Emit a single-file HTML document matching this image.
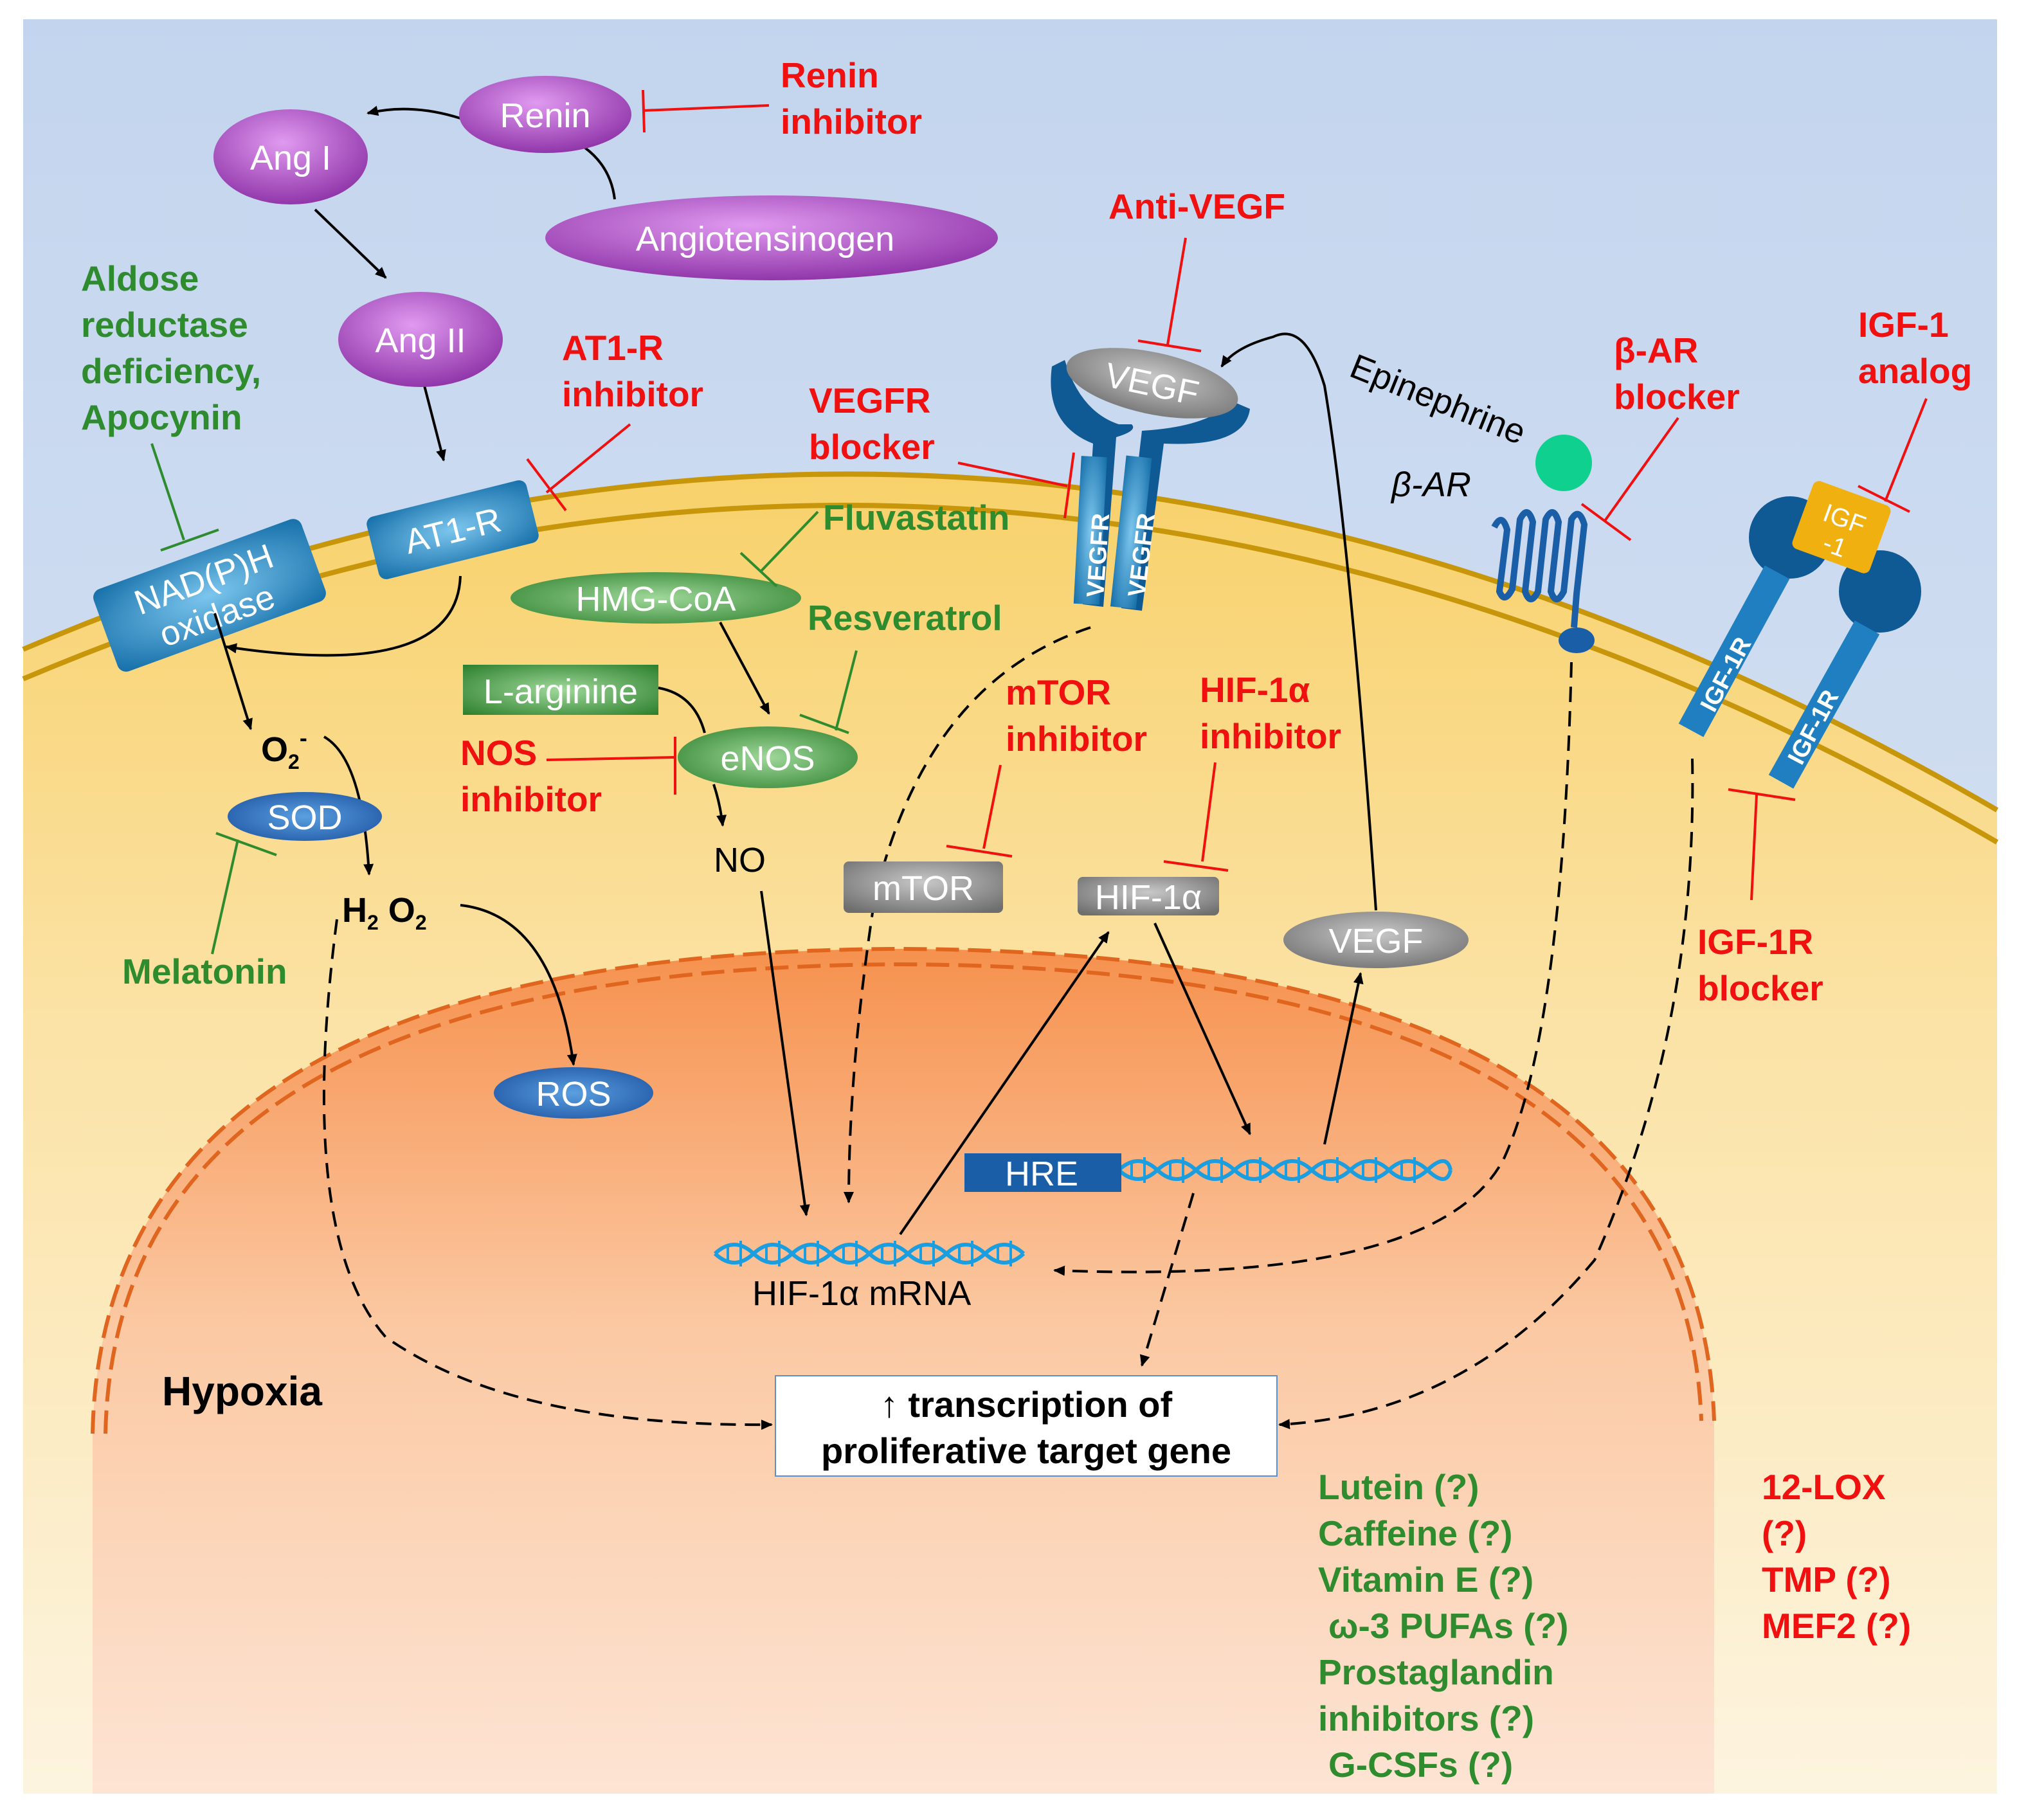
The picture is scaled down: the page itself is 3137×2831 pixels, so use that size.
<!DOCTYPE html>
<html><head><meta charset="utf-8"><style>
html,body{margin:0;padding:0;background:#fff;}
svg{display:block;}
text{font-family:"Liberation Sans",sans-serif;}
.r{fill:#f01010;font-weight:bold;font-size:27.5px;}
.g{fill:#2e8b2e;font-weight:bold;font-size:27.5px;}
.w{fill:#fff;font-size:27px;}
.k{fill:#000;font-size:27px;}
</style></head><body>
<svg width="3137" height="2831" viewBox="0 0 1568.5 1415.5" xmlns="http://www.w3.org/2000/svg">
<defs>
<linearGradient id="sky" x1="0" y1="0" x2="0" y2="1"><stop offset="0" stop-color="#c3d5ee"/><stop offset="1" stop-color="#dfe7f4"/></linearGradient>
<linearGradient id="cyto" x1="0" y1="0" x2="0" y2="1"><stop offset="0" stop-color="#f8d16a"/><stop offset="0.4" stop-color="#fbe2a4"/><stop offset="1" stop-color="#fdf4e0"/></linearGradient>
<linearGradient id="nuc" x1="0" y1="0" x2="0" y2="1"><stop offset="0" stop-color="#f6914e"/><stop offset="0.45" stop-color="#fbc9a3"/><stop offset="1" stop-color="#fde4d4"/></linearGradient>
<radialGradient id="pur" cx="0.45" cy="0.35" r="0.7"><stop offset="0" stop-color="#e09af0"/><stop offset="1" stop-color="#8b2fa5"/></radialGradient>
<radialGradient id="blu" cx="0.5" cy="0.5" r="0.7"><stop offset="0" stop-color="#7cc6ee"/><stop offset="1" stop-color="#146ea8"/></radialGradient>
<radialGradient id="dblu" cx="0.5" cy="0.5" r="0.7"><stop offset="0" stop-color="#5a9fe0"/><stop offset="1" stop-color="#1a4f9e"/></radialGradient>
<radialGradient id="grn" cx="0.5" cy="0.5" r="0.7"><stop offset="0" stop-color="#9fd89a"/><stop offset="1" stop-color="#2c7f2c"/></radialGradient>
<radialGradient id="gry" cx="0.5" cy="0.4" r="0.7"><stop offset="0" stop-color="#c8c8c8"/><stop offset="1" stop-color="#6e6e6e"/></radialGradient>
<marker id="ar" markerWidth="10" markerHeight="10" refX="8" refY="4" orient="auto" markerUnits="userSpaceOnUse"><path d="M0,0 L9,4 L0,8 z" fill="#000"/></marker>
</defs>
<rect x="18" y="15" width="1535" height="1380" fill="url(#sky)"/>
<path d="M18,505 Q780,180 1553,630 L1553,1395 L18,1395 Z" fill="url(#cyto)"/>
<path d="M18,505 Q780,180 1553,630" fill="none" stroke="#c8960a" stroke-width="4"/>
<path d="M18,528 Q780,205 1553,655" fill="none" stroke="#c8960a" stroke-width="4"/>
<path d="M72,1115 Q80,740 700,738 Q1320,740 1333,1105 L1333,1395 L72,1395 Z" fill="url(#nuc)"/>
<path d="M72,1115 Q80,740 700,738 Q1320,740 1333,1105" fill="none" stroke="#e0651e" stroke-width="3" stroke-dasharray="18,7"/>
<path d="M82,1115 Q90,752 700,750 Q1310,752 1323,1105" fill="none" stroke="#e0651e" stroke-width="3" stroke-dasharray="18,7"/>

<path d="M358,92 Q320,80 286,88" fill="none" stroke="#000" stroke-width="2" marker-end="url(#ar)"/>
<path d="M455,115 Q475,130 478,155" fill="none" stroke="#000" stroke-width="2"/>
<line x1="245" y1="163" x2="300" y2="216" stroke="#000" stroke-width="2" marker-end="url(#ar)"/>
<line x1="330" y1="300" x2="345" y2="358" stroke="#000" stroke-width="2" marker-end="url(#ar)"/>
<ellipse cx="424" cy="89" rx="67" ry="30" fill="url(#pur)"/><text x="424" y="99" class="w" text-anchor="middle">Renin</text>
<ellipse cx="226" cy="122" rx="60" ry="37" fill="url(#pur)"/><text x="226" y="132" class="w" text-anchor="middle">Ang I</text>
<ellipse cx="327" cy="264" rx="64" ry="37" fill="url(#pur)"/><text x="327" y="274" class="w" text-anchor="middle">Ang II</text>
<ellipse cx="600" cy="185" rx="176" ry="33" fill="url(#pur)"/><text x="595" y="195" class="w" text-anchor="middle" font-size="28.5">Angiotensinogen</text>
<line x1="598" y1="82" x2="500" y2="86" stroke="#f01010" stroke-width="2"/><line x1="500" y1="70" x2="501" y2="103" stroke="#f01010" stroke-width="2"/>
<text x="607" y="68" class="r">Renin</text><text x="607" y="104" class="r">inhibitor</text>

<text x="437" y="280" class="r">AT1-R</text><text x="437" y="316" class="r">inhibitor</text>
<line x1="490" y1="330" x2="425" y2="383" stroke="#f01010" stroke-width="2"/><line x1="410" y1="357" x2="440" y2="397" stroke="#f01010" stroke-width="2"/>
<g transform="translate(352,412) rotate(-14)"><rect x="-64" y="-25" width="128" height="50" rx="6" fill="url(#blu)"/><text x="0" y="10" class="w" text-anchor="middle">AT1-R</text></g>
<g transform="translate(163,463) rotate(-20)"><rect x="-86" y="-34" width="172" height="68" rx="7" fill="url(#blu)"/><text x="0" y="-4" class="w" text-anchor="middle">NAD(P)H</text><text x="0" y="26" class="w" text-anchor="middle">oxidase</text></g>
<path d="M358,448 Q355,530 176,503" fill="none" stroke="#000" stroke-width="2" marker-end="url(#ar)"/>
<text x="63" y="226" class="g">Aldose</text><text x="63" y="262" class="g">reductase</text><text x="63" y="298" class="g">deficiency,</text><text x="63" y="334" class="g">Apocynin</text>
<line x1="118" y1="345" x2="143" y2="420" stroke="#2e8b2e" stroke-width="2"/><line x1="125" y1="428" x2="170" y2="412" stroke="#2e8b2e" stroke-width="2"/>
<line x1="167" y1="477" x2="195" y2="567" stroke="#000" stroke-width="2" marker-end="url(#ar)"/>
<text x="203" y="592" class="k" font-weight="bold">O<tspan font-size="16" dy="6">2</tspan><tspan font-size="18" dy="-18">-</tspan></text>
<path d="M252,573 Q282,590 287,680" fill="none" stroke="#000" stroke-width="2" marker-end="url(#ar)"/>
<ellipse cx="237" cy="635" rx="60" ry="19" fill="url(#dblu)"/><text x="237" y="645" class="w" text-anchor="middle">SOD</text>
<line x1="165" y1="742" x2="185" y2="653" stroke="#2e8b2e" stroke-width="2"/><line x1="168" y1="648" x2="215" y2="665" stroke="#2e8b2e" stroke-width="2"/>
<text x="95" y="765" class="g">Melatonin</text>
<text x="266" y="717" class="k" font-weight="bold">H<tspan font-size="16" dy="6">2</tspan><tspan dy="-6"> O</tspan><tspan font-size="16" dy="6">2</tspan></text>
<path d="M358,704 Q430,712 446,828" fill="none" stroke="#000" stroke-width="2" marker-end="url(#ar)"/>
<ellipse cx="446" cy="850" rx="62" ry="20" fill="url(#dblu)"/><text x="446" y="860" class="w" text-anchor="middle">ROS</text>
<path d="M262,715 Q230,960 300,1040 Q400,1110 600,1108" fill="none" stroke="#000" stroke-width="2" stroke-dasharray="12,7" marker-end="url(#ar)"/>

<ellipse cx="510" cy="465" rx="113" ry="20" fill="url(#grn)"/><text x="510" y="475" class="w" text-anchor="middle">HMG-CoA</text>
<text x="640" y="412" class="g">Fluvastatin</text>
<line x1="636" y1="398" x2="592" y2="444" stroke="#2e8b2e" stroke-width="2"/><line x1="576" y1="430" x2="604" y2="456" stroke="#2e8b2e" stroke-width="2"/>
<text x="628" y="490" class="g">Resveratrol</text>
<line x1="666" y1="506" x2="650" y2="568" stroke="#2e8b2e" stroke-width="2"/><line x1="622" y1="556" x2="660" y2="570" stroke="#2e8b2e" stroke-width="2"/>
<rect x="360" y="517" width="152" height="39" fill="url(#grn)"/><text x="436" y="547" class="w" text-anchor="middle">L-arginine</text>
<line x1="560" y1="484" x2="598" y2="555" stroke="#000" stroke-width="2" marker-end="url(#ar)"/>
<path d="M512,535 Q540,540 548,570" fill="none" stroke="#000" stroke-width="2"/>
<ellipse cx="597" cy="589" rx="70" ry="24" fill="url(#grn)"/><text x="597" y="599" class="w" text-anchor="middle">eNOS</text>
<path d="M555,610 Q560,625 562,642" fill="none" stroke="#000" stroke-width="2" marker-end="url(#ar)"/>
<line x1="425" y1="591" x2="524" y2="589" stroke="#f01010" stroke-width="2"/><line x1="525" y1="573" x2="525" y2="618" stroke="#f01010" stroke-width="2"/>
<text x="358" y="595" class="r">NOS</text><text x="358" y="631" class="r">inhibitor</text>
<text x="555" y="678" class="k">NO</text>
<line x1="592" y1="693" x2="627" y2="945" stroke="#000" stroke-width="2" marker-end="url(#ar)"/>

<text x="862" y="170" class="r">Anti-VEGF</text>
<line x1="922" y1="185" x2="908" y2="268" stroke="#f01010" stroke-width="2"/><line x1="885" y1="265" x2="934" y2="273" stroke="#f01010" stroke-width="2"/>
<path d="M818,285 Q812,330 850,345 L842,470 L858,472 L868,340 Q885,335 880,330 L870,330 Q840,320 828,280 Z" fill="#0f5a95"/>
<path d="M972,318 Q968,348 905,345 L888,475 L872,473 L888,335 Q940,332 958,312 Z" fill="#0f5a95"/>
<rect x="838" y="355" width="20" height="115" fill="url(#blu)" transform="rotate(3 848 410)"/>
<rect x="870" y="355" width="20" height="118" fill="url(#blu)" transform="rotate(6 880 410)"/>
<text transform="translate(858,465) rotate(-86)" fill="#fff" font-size="19" font-weight="bold">VEGFR</text>
<text transform="translate(890,465) rotate(-83)" fill="#fff" font-size="19" font-weight="bold">VEGFR</text>
<g transform="translate(896,298) rotate(12)"><ellipse rx="68" ry="24" fill="url(#gry)"/><text y="10" class="w" text-anchor="middle">VEGF</text></g>
<text x="629" y="321" class="r">VEGFR</text><text x="629" y="357" class="r">blocker</text>
<line x1="745" y1="360" x2="830" y2="378" stroke="#f01010" stroke-width="2"/><line x1="835" y1="352" x2="828" y2="403" stroke="#f01010" stroke-width="2"/>
<path d="M848,488 Q720,530 680,700 Q660,830 660,935" fill="none" stroke="#000" stroke-width="2" stroke-dasharray="12,7" marker-end="url(#ar)"/>
<path d="M1070,708 Q1050,420 1030,300 Q1015,250 990,262 Q960,270 950,285" fill="none" stroke="#000" stroke-width="2" marker-end="url(#ar)"/>

<text x="782" y="548" class="r">mTOR</text><text x="782" y="584" class="r">inhibitor</text>
<line x1="778" y1="595" x2="765" y2="660" stroke="#f01010" stroke-width="2"/><line x1="736" y1="658" x2="787" y2="666" stroke="#f01010" stroke-width="2"/>
<text x="933" y="546" class="r">HIF-1α</text><text x="933" y="582" class="r">inhibitor</text>
<line x1="945" y1="593" x2="935" y2="670" stroke="#f01010" stroke-width="2"/><line x1="905" y1="670" x2="955" y2="677" stroke="#f01010" stroke-width="2"/>
<rect x="656" y="670" width="124" height="40" rx="4" fill="url(#gry)"/><text x="718" y="700" class="w" text-anchor="middle">mTOR</text>
<rect x="838" y="682" width="110" height="30" rx="4" fill="url(#gry)"/><text x="893" y="707" class="w" text-anchor="middle">HIF-1α</text>
<ellipse cx="1070" cy="731" rx="72" ry="22" fill="url(#gry)"/><text x="1070" y="741" class="w" text-anchor="middle">VEGF</text>
<line x1="700" y1="960" x2="862" y2="725" stroke="#000" stroke-width="2" marker-end="url(#ar)"/>
<line x1="898" y1="718" x2="972" y2="882" stroke="#000" stroke-width="2" marker-end="url(#ar)"/>
<line x1="1030" y1="890" x2="1058" y2="757" stroke="#000" stroke-width="2" marker-end="url(#ar)"/>

<text transform="translate(1048,292) rotate(22)" class="k" font-size="28">Epinephrine</text>
<circle cx="1216" cy="360" r="22" fill="#10d090"/>
<text x="1082" y="386" class="k" font-style="italic">β-AR</text>
<path d="M1162,410 Q1168,398 1172,412 L1166,460 Q1170,470 1176,458 L1182,404 Q1188,392 1192,406 L1186,460 Q1190,472 1196,460 L1202,404 Q1208,392 1212,406 L1206,460 Q1210,472 1216,460 L1222,404 Q1228,394 1232,408 L1226,462 L1224,488" fill="none" stroke="#1a5ea8" stroke-width="5"/>
<ellipse cx="1226" cy="498" rx="14" ry="10" fill="#1a5ea8"/>
<text x="1255" y="282" class="r">β-AR</text><text x="1255" y="318" class="r">blocker</text>
<line x1="1305" y1="325" x2="1248" y2="405" stroke="#f01010" stroke-width="2"/><line x1="1230" y1="392" x2="1268" y2="420" stroke="#f01010" stroke-width="2"/>
<path d="M1222,515 Q1215,800 1170,900 Q1120,1000 820,988" fill="none" stroke="#000" stroke-width="2" stroke-dasharray="12,7" marker-end="url(#ar)"/>

<text x="1445" y="262" class="r">IGF-1</text><text x="1445" y="298" class="r">analog</text>
<line x1="1498" y1="310" x2="1466" y2="390" stroke="#f01010" stroke-width="2"/><line x1="1445" y1="378" x2="1485" y2="398" stroke="#f01010" stroke-width="2"/>
<circle cx="1392" cy="418" r="32" fill="#0f5a95"/>
<circle cx="1462" cy="460" r="32" fill="#0f5a95"/>
<line x1="1382" y1="445" x2="1315" y2="568" stroke="#1f7fc0" stroke-width="22"/>
<line x1="1452" y1="488" x2="1385" y2="608" stroke="#1f7fc0" stroke-width="22"/>
<text transform="translate(1333,555) rotate(-62)" fill="#fff" font-size="19" font-weight="bold">IGF-1R</text>
<text transform="translate(1401,596) rotate(-62)" fill="#fff" font-size="19" font-weight="bold">IGF-1R</text>
<g transform="translate(1432,410) rotate(20)"><rect x="-32" y="-28" width="64" height="56" rx="5" fill="#f0b010"/><text x="0" y="0" fill="#fff" font-size="20" text-anchor="middle">IGF</text><text x="0" y="22" fill="#fff" font-size="20" text-anchor="middle">-1</text></g>
<line x1="1362" y1="700" x2="1366" y2="618" stroke="#f01010" stroke-width="2"/><line x1="1344" y1="614" x2="1396" y2="622" stroke="#f01010" stroke-width="2"/>
<text x="1320" y="742" class="r">IGF-1R</text><text x="1320" y="778" class="r">blocker</text>
<path d="M1316,590 Q1320,800 1240,980 Q1140,1100 995,1108" fill="none" stroke="#000" stroke-width="2" stroke-dasharray="12,7" marker-end="url(#ar)"/>

<g fill="none" stroke="#1a9ee0" stroke-width="3">
<path d="M870,910 q15,-14 30,0 t30,0 t30,0 t30,0 t30,0 t30,0 t30,0 t30,0 t18,0"/>
<path d="M870,910 q15,14 30,0 t30,0 t30,0 t30,0 t30,0 t30,0 t30,0 t30,0 t18,0"/>
<path d="M556,975 q15,-14 30,0 t30,0 t30,0 t30,0 t30,0 t30,0 t30,0 t30,0"/>
<path d="M556,975 q15,14 30,0 t30,0 t30,0 t30,0 t30,0 t30,0 t30,0 t30,0"/>
</g>
<g stroke="#1a9ee0" stroke-width="2">
<path d="M880,903v14M890,900v20M910,903v14M920,900v20M940,903v14M950,900v20M970,903v14M980,900v20M1000,903v14M1010,900v20M1030,903v14M1040,900v20M1060,903v14M1070,900v20M1090,903v14M1100,900v20"/>
<path d="M566,968v14M576,965v20M596,968v14M606,965v20M626,968v14M636,965v20M656,968v14M666,965v20M686,968v14M696,965v20M716,968v14M726,965v20M746,968v14M756,965v20M776,968v14M786,965v20"/>
</g>
<rect x="750" y="897" width="122" height="30" fill="#1a5ea8"/><text x="810" y="922" class="w" text-anchor="middle">HRE</text>
<text x="585" y="1015" class="k">HIF-1α mRNA</text>
<line x1="928" y1="928" x2="888" y2="1062" stroke="#000" stroke-width="2" stroke-dasharray="12,7" marker-end="url(#ar)"/>

<text x="126" y="1093" fill="#000" font-size="32" font-weight="bold">Hypoxia</text>
<rect x="603" y="1070" width="390" height="78" fill="#fff" stroke="#5b8fd0" stroke-width="1"/>
<text x="798" y="1102" fill="#000" font-size="28" font-weight="bold" text-anchor="middle">↑ transcription of</text>
<text x="798" y="1138" fill="#000" font-size="28" font-weight="bold" text-anchor="middle">proliferative target gene</text>

<text x="1025" y="1166" class="g">Lutein (?)</text>
<text x="1025" y="1202" class="g">Caffeine (?)</text>
<text x="1025" y="1238" class="g">Vitamin E (?)</text>
<text x="1033" y="1274" class="g">ω-3 PUFAs (?)</text>
<text x="1025" y="1310" class="g">Prostaglandin</text>
<text x="1025" y="1346" class="g">inhibitors (?)</text>
<text x="1033" y="1382" class="g">G-CSFs (?)</text>
<text x="1370" y="1166" class="r">12-LOX</text>
<text x="1370" y="1202" class="r">(?)</text>
<text x="1370" y="1238" class="r">TMP (?)</text>
<text x="1370" y="1274" class="r">MEF2 (?)</text>
</svg>
</body></html>
